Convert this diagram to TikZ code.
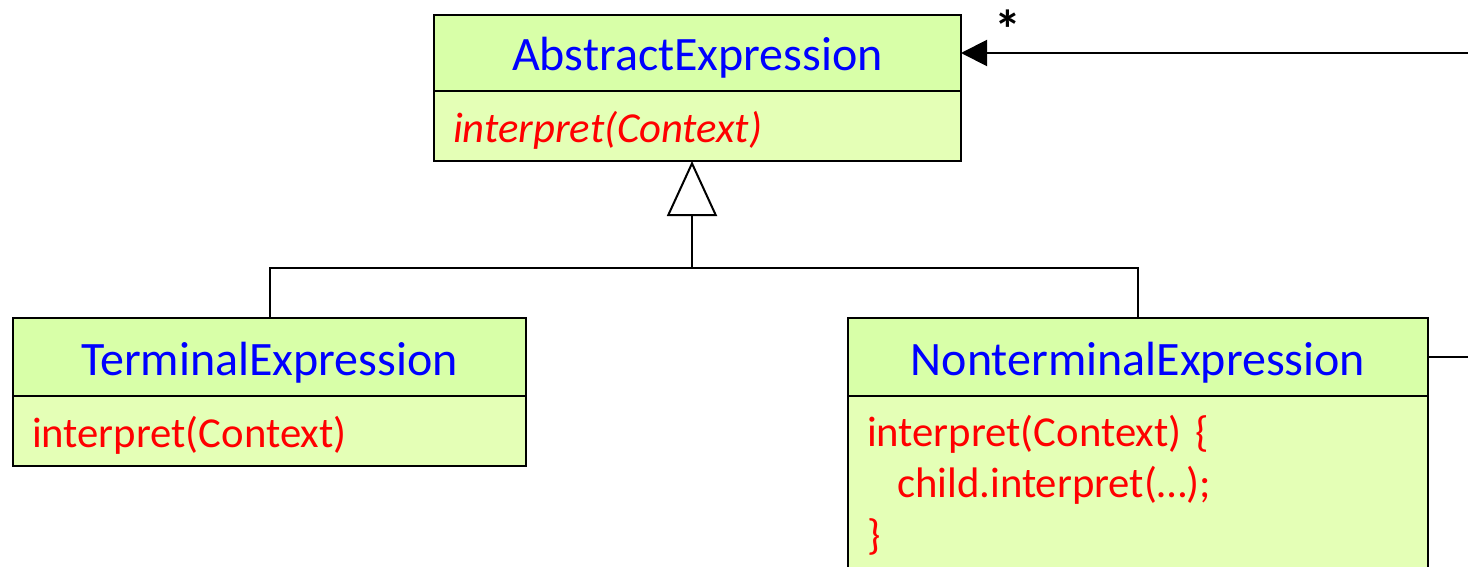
\documentclass[tikz,border=0pt]{standalone}
\usepackage{fontspec}
\setmainfont{Carlito}
\usepackage{tikz}
\usetikzlibrary{arrows.meta, positioning}

\definecolor{headfill}{RGB}{216,255,168}
\definecolor{bodyfill}{RGB}{228,255,182}

\tikzset{
  classhead/.style={draw, line width=2pt, fill=headfill, text=blue, inner sep=0pt, outer sep=0pt, text height=45pt, text depth=9pt, font=\fontsize{48}{56}\selectfont},
  classbody/.style={draw, line width=2pt, fill=bodyfill, text=red, inner xsep=19pt, inner ysep=0pt, outer sep=0pt, align=left, font=\fontsize{42.7}{51.5}\selectfont},
  inherit/.style={line width=2pt, -{Triangle[open, length=55pt, width=50pt]}},
  assoc/.style={line width=2pt, -{Triangle[length=26pt, width=26pt]}}
}

\begin{document}
\begin{tikzpicture}[x=1pt, y=-1pt]
  \useasboundingbox (0,0) rectangle (1468,567);
  \clip (0,0) rectangle (1468,567);

  % abstract class
  \node[classhead, minimum width=527pt, minimum height=76pt, anchor=north west] (absHead) at (434,15) {AbstractExpression};
  \node[classbody, text width=489pt, text height=41pt, text depth=8pt, minimum height=70pt, below=0pt of absHead] (absBody) {\itshape interpret(Context)};

  % subclasses
  \node[classhead, minimum width=513pt, minimum height=78pt, anchor=north west] (termHead) at (13,318) {TerminalExpression};
  \node[classbody, text width=475pt, text height=41pt, text depth=8pt, minimum height=70pt, below=0pt of termHead] (termBody) {interpret(Context)};

  \node[classhead, minimum width=580pt, minimum height=78pt, anchor=north west] (ntHead) at (848,318) {NonterminalExpression};
  \node[classbody, text width=542pt, inner ysep=19pt, below=0pt of ntHead] (ntBody) {interpret(Context) \{\\\hspace*{30pt}child.interpret(…);\\\}\rule[-60pt]{0pt}{0pt}};

  % generalization
  \coordinate (fork) at (692,268);
  \draw[line width=2pt] (termHead.north) |- (fork) -| (ntHead.north);
  \draw[inherit] (fork) -- (fork |- absBody.south);

  % child association
  \draw[assoc] (ntHead.east) -- ++(80,0) |- (absHead.east);
  \node[font=\bfseries\fontsize{54}{60}\selectfont] (many) at (1008,29) {*};
\end{tikzpicture}
\end{document}
